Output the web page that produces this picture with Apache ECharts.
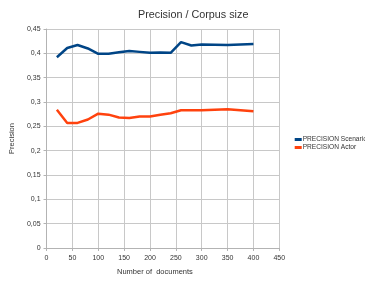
<!DOCTYPE html>
<html>
<head>
<meta charset="utf-8">
<script src="https://cdn.jsdelivr.net/npm/echarts@6/dist/echarts.min.js"></script>
<style>
  html, body { margin: 0; padding: 0; background: #fff; }
  #chart { width: 365px; height: 281px; }
</style>
</head>
<body>
<div id="chart"></div>
<script>
// number of documents
const docs = [20, 40, 60, 80, 100, 120, 140, 160, 180, 200, 220, 240, 260, 280, 300, 350, 400]
const precisionScenario = [0.392, 0.411, 0.417, 0.410, 0.399, 0.399, 0.402, 0.405, 0.403, 0.401, 0.4015, 0.401, 0.423, 0.416, 0.418, 0.417, 0.419]
const precisionActor = [0.284, 0.257, 0.257, 0.264, 0.276, 0.274, 0.268, 0.267, 0.270, 0.270, 0.274, 0.277, 0.283, 0.283, 0.283, 0.285, 0.281]
const seriesNames = ['PRECISION Scenario', 'PRECISION Actor']
const colors = ['#004586', '#ff420e']

const chart = echarts.init(document.getElementById('chart'))
const font = 'Liberation Sans, Arial, sans-serif'
const comma = (v) => String(v).replace('.', ',')

const series = [precisionScenario, precisionActor].map((vals, i) => ({
  name: seriesNames[i],
  type: 'line',
  symbol: 'none',
  lineStyle: { color: colors[i], width: 2.5 },
  itemStyle: { color: colors[i] },
  data: docs.map((d, j) => [d, vals[j]]),
}))

chart.setOption({
  animation: false,
  textStyle: { fontFamily: font },
  title: {
    text: 'Precision / Corpus size',
    left: 133,
    top: 5,
    textStyle: { fontSize: 10.8, fontWeight: 'normal', color: '#333', fontFamily: font },
  },
  legend: {
    orient: 'vertical',
    left: 294.7,
    top: 136,
    padding: 0,
    itemWidth: 7,
    itemHeight: 3,
    itemGap: 1,
    icon: 'rect',
    textStyle: { fontSize: 6.6, color: '#333', padding: [0, 0, 0, -4] },
    data: seriesNames,
  },
  grid: { left: 43.5, right: 85.7, top: 29, bottom: 30.3 },
  xAxis: {
    type: 'value',
    min: 0,
    max: 450,
    interval: 50,
    name: 'Number of  documents',
    nameLocation: 'middle',
    nameGap: 20,
    nameTextStyle: { fontSize: 7.5, color: '#333', padding: [0, 16, 0, 0] },
    axisLine: { show: true, lineStyle: { color: '#b3b3b3' } },
    axisTick: { show: true, length: 3, lineStyle: { color: '#b3b3b3' } },
    axisLabel: { fontSize: 7, color: '#333', margin: 7 },
    splitLine: { show: true, lineStyle: { color: '#c8c8c8', width: 1 } },
  },
  yAxis: {
    type: 'value',
    min: 0,
    max: 0.45,
    interval: 0.05,
    name: 'Precision',
    nameLocation: 'middle',
    nameGap: 25,
    nameTextStyle: { fontSize: 7.5, color: '#333' },
    axisLine: { show: true, lineStyle: { color: '#b3b3b3' } },
    axisTick: { show: true, length: 3, lineStyle: { color: '#b3b3b3' } },
    axisLabel: { fontSize: 7, color: '#333', margin: 6, formatter: comma },
    splitLine: { show: true, lineStyle: { color: '#c8c8c8', width: 1 } },
  },
  series,
})
</script>
</body>
</html>
